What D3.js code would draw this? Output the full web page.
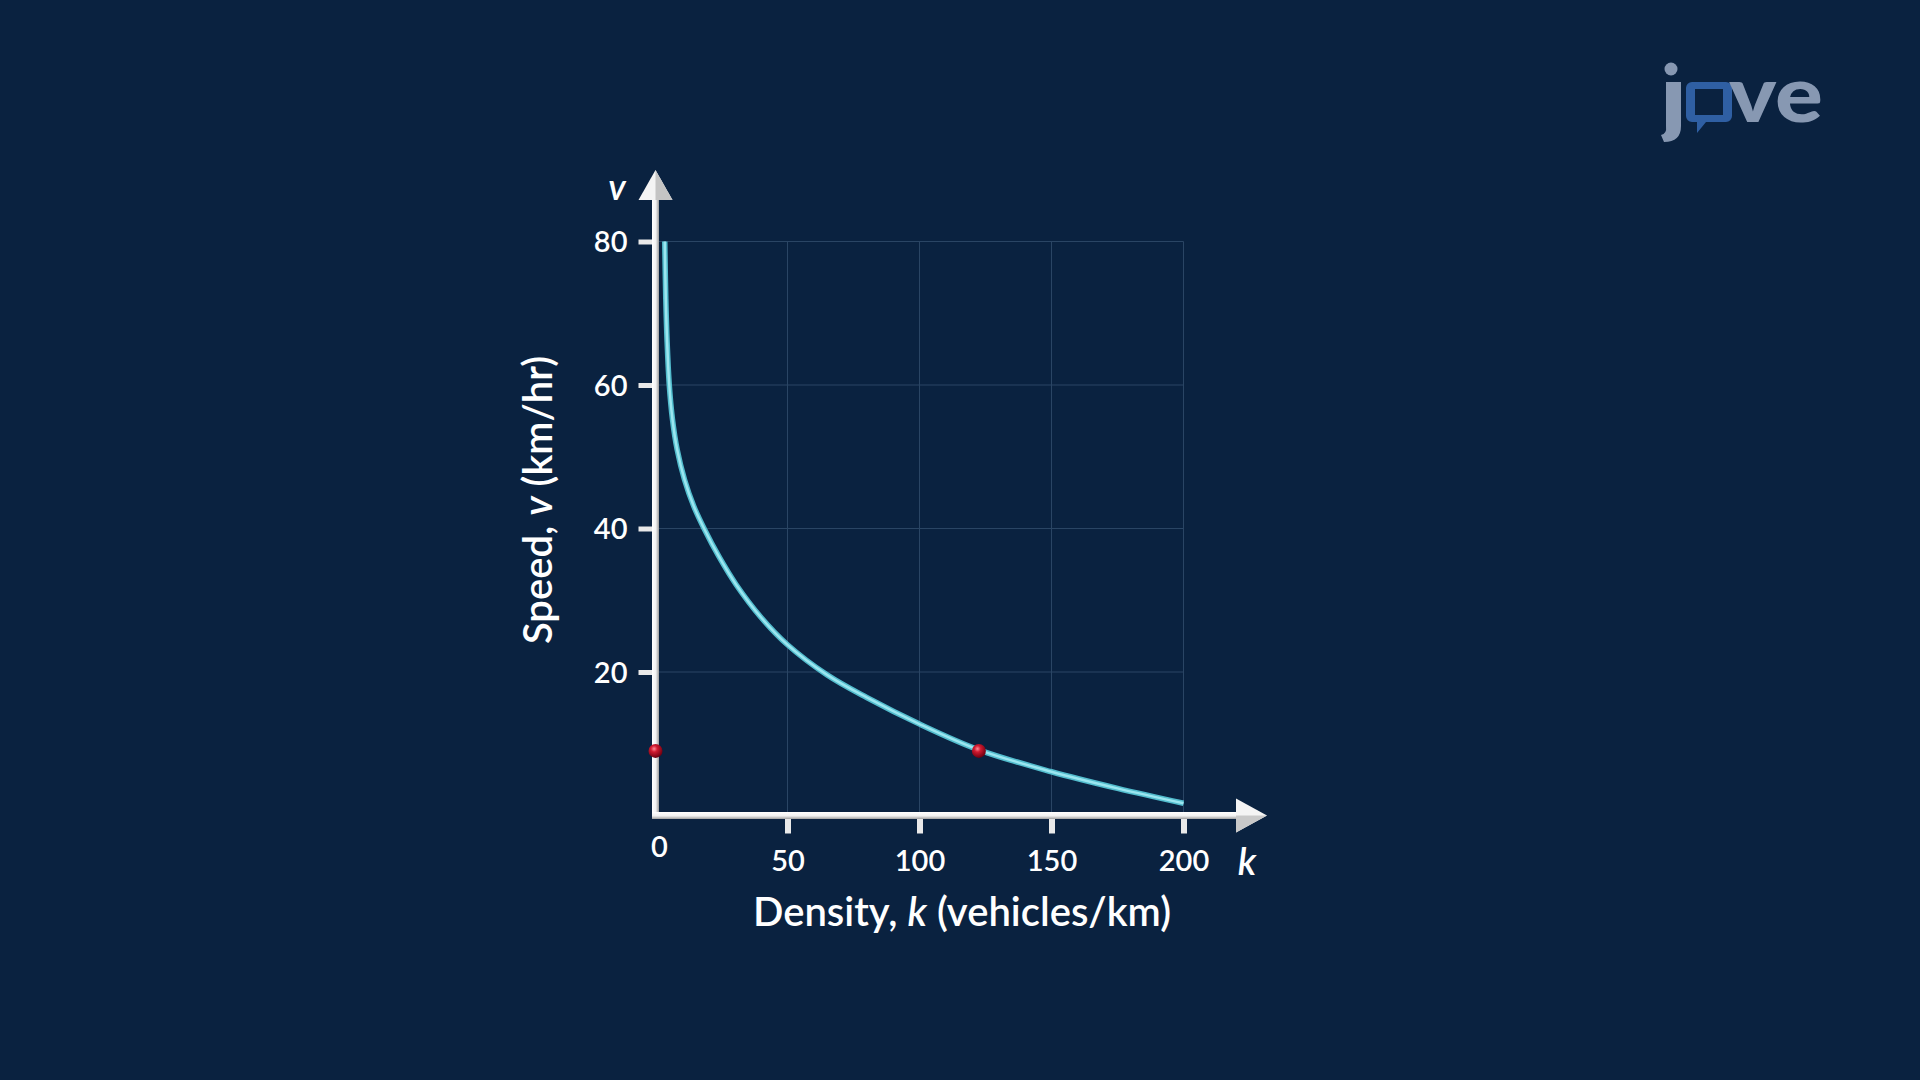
<!DOCTYPE html>
<html>
<head>
<meta charset="utf-8">
<script src="https://cdn.jsdelivr.net/npm/d3@7"></script>
<style>
  html, body { margin: 0; padding: 0; background: #0a2240; }
  svg { display: block; }
  text { font-family: Lato, "Open Sans", sans-serif; }
</style>
</head>
<body>
<svg id="chart" width="1920" height="1080"></svg>
<script>
// ---- data ----
const densityK = [3.5, 3.9, 4.4, 5.2, 6.4, 8.2, 11.0, 14.5, 18.4, 24, 30.5, 40, 50, 65, 80, 100, 122.5, 150, 175, 200];
const speedV   = [80, 72, 66, 60.1, 55.3, 51, 46.8, 43.1, 40, 36.1, 32.2, 27.6, 23.8, 19.6, 16.45, 12.75, 9.15, 6.1, 3.78, 1.7];
const xTickValues = [50, 100, 150, 200];
const yTickValues = [20, 40, 60, 80];
const markerK = [0, 122.5];
const markerV = [9, 9];
const xTitle = ["Density, ", "k", " (vehicles/km)"];
const yTitle = ["Speed, ", "v", " (km/hr)"];

const svg = d3.select("#chart");
svg.append("rect").attr("width", 1920).attr("height", 1080).attr("fill", "#0a2240");

const x = d3.scaleLinear().domain([0, 200]).range([655.5, 1183.5]);
const y = d3.scaleLinear().domain([0, 80]).range([815.5, 241.5]);

const defs = svg.append("defs");
const rg = defs.append("radialGradient").attr("id", "ball").attr("cx", "40%").attr("cy", "35%").attr("r", "65%");
rg.append("stop").attr("offset", "0%").attr("stop-color", "#ff8a95");
rg.append("stop").attr("offset", "35%").attr("stop-color", "#d11a30");
rg.append("stop").attr("offset", "100%").attr("stop-color", "#6e0010");

const vg = defs.append("linearGradient").attr("id", "vaxis").attr("x1", "0").attr("x2", "1").attr("y1", "0").attr("y2", "0");
vg.append("stop").attr("offset", "0%").attr("stop-color", "#ffffff");
vg.append("stop").attr("offset", "55%").attr("stop-color", "#f2f2f2");
vg.append("stop").attr("offset", "100%").attr("stop-color", "#9c9c9c");
const hg = defs.append("linearGradient").attr("id", "haxis").attr("x1", "0").attr("x2", "0").attr("y1", "0").attr("y2", "1");
hg.append("stop").attr("offset", "0%").attr("stop-color", "#ffffff");
hg.append("stop").attr("offset", "55%").attr("stop-color", "#f2f2f2");
hg.append("stop").attr("offset", "100%").attr("stop-color", "#a0a0a0");

// ---- logo ----
const logo = svg.append("g");
const logoGrey = "#8798b2";
logo.append("circle").attr("cx", 1671).attr("cy", 69).attr("r", 6.5).attr("fill", logoGrey);
logo.append("path").attr("d", "M1666,82 h15 v44 q0,16 -17,16 l-3,-7 q6,-1 5,-9 z").attr("fill", logoGrey);
logo.append("path")
  .attr("d", "M1692,82 h34 a6,6 0 0 1 6,6 v28 a6,6 0 0 1 -6,6 h-20 l-9,11 v-11 h-5 a6,6 0 0 1 -6,-6 v-28 a6,6 0 0 1 6,-6 z M1695,89 v26 h28 v-26 z")
  .attr("fill", "#2f5fa3").attr("fill-rule", "evenodd");
logo.append("text").attr("x", 1729).attr("y", 122).attr("font-size", 78).attr("font-weight", 900)
  .attr("fill", logoGrey).attr("textLength", 94).attr("lengthAdjust", "spacingAndGlyphs").text("ve");

// ---- grid ----
const grid = svg.append("g").attr("stroke", "#2a4564").attr("stroke-width", 1);
grid.selectAll("line.h").data(yTickValues).join("line")
  .attr("x1", x(0)).attr("x2", x(200)).attr("y1", d => y(d)).attr("y2", d => y(d));
grid.selectAll("line.v").data(xTickValues).join("line")
  .attr("x1", d => x(d)).attr("x2", d => x(d)).attr("y1", y(80)).attr("y2", y(0));

// ---- axes via d3 axis generators ----
const yAxis = d3.axisLeft(y).tickValues(yTickValues).tickSize(17).tickPadding(11);
const gy = svg.append("g").attr("transform", `translate(${x(0)},0)`).call(yAxis);
gy.select(".domain").remove();
gy.selectAll(".tick line").attr("stroke", "#e9e9e9").attr("stroke-width", 5);
gy.selectAll(".tick text").attr("fill", "#ffffff").attr("font-size", 29).attr("font-family", "Lato")
  .attr("font-weight", 600).attr("dy", "0.36em");

const xAxis = d3.axisBottom(x).tickValues(xTickValues).tickSize(18).tickPadding(10);
const gx = svg.append("g").attr("transform", `translate(0,${y(0)})`).call(xAxis);
gx.select(".domain").remove();
gx.selectAll(".tick line").attr("stroke", "#e9e9e9").attr("stroke-width", 6);
gx.selectAll(".tick text").attr("fill", "#ffffff").attr("font-size", 29).attr("font-family", "Lato")
  .attr("font-weight", 600).attr("y", 45).attr("dy", "0.36em");

svg.append("text").attr("x", x(0) + 4).attr("y", 847).attr("dy", "0.36em").attr("text-anchor", "middle")
  .attr("fill", "#fff").attr("font-size", 29).attr("font-weight", 600).text("0");

// axis lines with arrows
svg.append("rect").attr("x", x(0) - 3.5).attr("y", 196).attr("width", 7).attr("height", y(0) - 196 + 3.5)
  .attr("fill", "url(#vaxis)");
svg.append("rect").attr("x", x(0) - 3.5).attr("y", y(0) - 3.5).attr("width", 1240 - x(0)).attr("height", 7)
  .attr("fill", "url(#haxis)");
svg.append("path").attr("d", `M${x(0)},170 L${x(0) + 17},200 L${x(0) - 17},200 Z`).attr("fill", "#f4f4f4");
svg.append("path").attr("d", `M${x(0)},170 L${x(0) + 17},200 L${x(0)},200 Z`).attr("fill", "#c4c4c4");
svg.append("path").attr("d", `M1267,${y(0)} L1236,${y(0) - 17} L1236,${y(0) + 17} Z`).attr("fill", "#f4f4f4");
svg.append("path").attr("d", `M1267,${y(0)} L1236,${y(0) + 17} L1236,${y(0)} Z`).attr("fill", "#c9c9c9");

// axis letters
svg.append("text").attr("x", 617).attr("y", 187).attr("dy", "0.36em").attr("text-anchor", "middle")
  .attr("font-style", "italic").attr("font-weight", 600).attr("font-size", 36).attr("fill", "#fff").text("v");
svg.append("text").attr("x", 1247).attr("y", 861).attr("dy", "0.36em").attr("text-anchor", "middle")
  .attr("font-style", "italic").attr("font-weight", 600).attr("font-size", 38).attr("fill", "#fff").text("k");

// titles
const xt = svg.append("text").attr("x", 962).attr("y", 912).attr("dy", "0.36em").attr("text-anchor", "middle")
  .attr("font-size", 40).attr("font-weight", 600).attr("fill", "#fff");
xt.selectAll("tspan").data(xTitle).join("tspan").attr("font-style", (d, i) => i === 1 ? "italic" : "normal").text(d => d);
const yt = svg.append("text").attr("transform", "translate(538,500) rotate(-90)").attr("dy", "0.36em")
  .attr("text-anchor", "middle").attr("font-size", 40).attr("font-weight", 600).attr("fill", "#fff");
yt.selectAll("tspan").data(yTitle).join("tspan").attr("font-style", (d, i) => i === 1 ? "italic" : "normal").text(d => d);

// ---- curve ----
const pts = densityK.map((k, i) => [k, speedV[i]]);
const line = d3.line().x(d => x(d[0])).y(d => y(d[1])).curve(d3.curveCatmullRom.alpha(0.5));
svg.append("path").datum(pts).attr("d", line).attr("fill", "none").attr("stroke", "#52bccd").attr("stroke-width", 5.5);
svg.append("path").datum(pts).attr("d", line).attr("fill", "none").attr("stroke", "#9be6f0").attr("stroke-width", 2.5);

// ---- markers ----
svg.selectAll("circle.m").data(markerK).join("circle")
  .attr("cx", (d, i) => x(d)).attr("cy", (d, i) => y(markerV[i])).attr("r", 7).attr("fill", "url(#ball)");
</script>
</body>
</html>
